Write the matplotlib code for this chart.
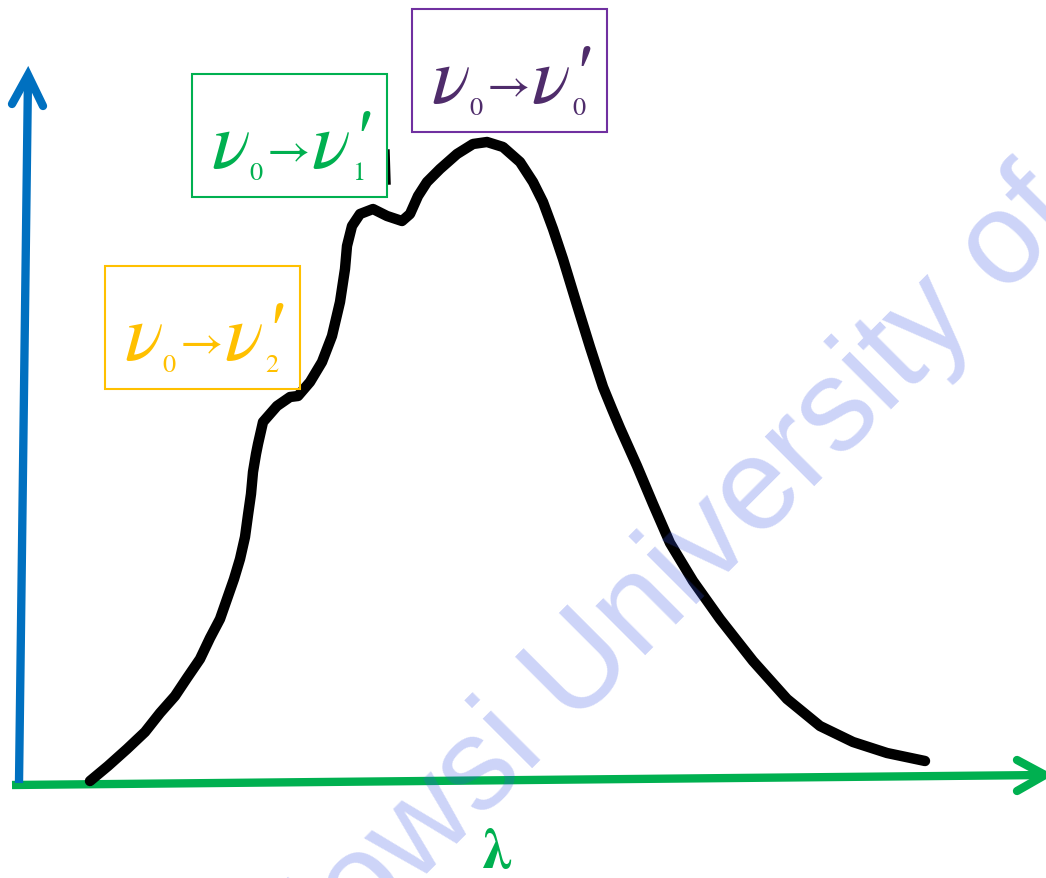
import matplotlib.pyplot as plt

# absorption band (x = wavelength, y = height from top, picture units)
wavelength = [90, 108, 127, 145, 160, 175, 187, 200, 210, 220, 227, 234, 240, 245, 248, 251,
              253, 256, 258, 263, 277, 290, 298, 310, 322, 332, 340, 345, 347, 352, 360, 373,
              387, 402, 410, 418, 427, 440, 457, 473, 487, 503, 520, 533, 543, 553, 563, 577,
              590, 603, 612, 620, 637, 653, 670, 693, 720, 753, 787, 820, 853, 887, 925]
height_px = [782, 767, 750, 733, 714, 697, 679, 660, 639, 620, 600, 580, 560, 538, 516, 495,
             473, 455, 445, 423, 407, 398, 397, 383, 363, 337, 303, 270, 247, 227, 215, 210,
             217, 222, 215, 197, 183, 170, 155, 145, 143, 148, 163, 183, 203, 230, 260, 306,
             348, 388, 410, 429, 467, 505, 544, 582, 620, 662, 700, 727, 743, 754, 762]
H = 879
intensity = [H - v for v in height_px]

# axes of the sketch
x_axis_x = [12, 1045]
x_axis_y = [H - 786, H - 776]
x_head_x = [1017, 1045, 1017]
x_head_y = [H - 761, H - 776, H - 792]
y_axis_x = [19, 28]
y_axis_y = [H - 784, H - 78]
y_head_x = [12, 28, 43]
y_head_y = [H - 105, H - 76, H - 107]

# transition labels: (left of first nu, baseline), subscript of upper state, colours
labels = [(126, 360, "2", "#FFC000", "#FFC000"),
          (213, 168, "1", "#00B050", "#00B050"),
          (433, 103, "0", "#7030A0", "#4F2C6B")]

fig = plt.figure(figsize=(10.46, 8.79), dpi=100)
ax = fig.add_axes([0, 0, 1, 1])
ax.set_xlim(0, 1046)
ax.set_ylim(0, H)
ax.axis("off")

serif = ["STIXGeneral", "Liberation Serif", "DejaVu Serif"]

ax.plot(x_axis_x, x_axis_y, color="#00B050", lw=6, solid_capstyle="butt")
ax.plot(x_head_x, x_head_y, color="#00B050", lw=6, solid_capstyle="round", solid_joinstyle="miter")
ax.plot(y_axis_x, y_axis_y, color="#0070C0", lw=6, solid_capstyle="butt")
ax.plot(y_head_x, y_head_y, color="#0070C0", lw=6, solid_capstyle="round", solid_joinstyle="miter")

ax.plot(wavelength, intensity, color="black", lw=7.5, solid_capstyle="round",
        solid_joinstyle="round", zorder=3)
ax.plot([388, 389], [H - 152, H - 184], color="black", lw=2.5, zorder=3)

for bx, by, sub, edge, tc in labels:
    ax.add_patch(plt.Rectangle((bx - 21, H - by - 30), 195, 123, fill=False,
                               edgecolor=edge, lw=1.5, zorder=4))
    ax.text(bx - 2, H - by, "ν", family=serif, style="italic", fontsize=58, color=tc, va="baseline", zorder=5)
    ax.text(bx + 36, H - by - 12, "0", family=serif, fontsize=19, color=tc, va="baseline", zorder=5)
    ax.text(bx + 76, H - by + 15, "→", family=serif, fontsize=34, color=tc, ha="center", va="center", zorder=5)
    ax.text(bx + 98, H - by, "ν", family=serif, style="italic", fontsize=58, color=tc, va="baseline", zorder=5)
    ax.text(bx + 139, H - by - 12, sub, family=serif, fontsize=19, color=tc, va="baseline", zorder=5)
    ax.text(bx + 137, H - by + 2, "'", family=serif, style="italic", fontsize=58, color=tc,
            va="baseline", zorder=5)

ax.text(497, H - 855, "λ", family=serif, fontweight="bold", fontsize=40, color="#00B050",
        ha="center", va="center")

# watermark
ax.text(829, H - 471, "Ferdowsi University of Mashhad", family="Liberation Sans", fontsize=94,
        color=(56 / 255, 84 / 255, 228 / 255), alpha=0.25, rotation=45, rotation_mode="anchor",
        ha="center", va="baseline", zorder=10)

fig.savefig("out.png", dpi=100)
